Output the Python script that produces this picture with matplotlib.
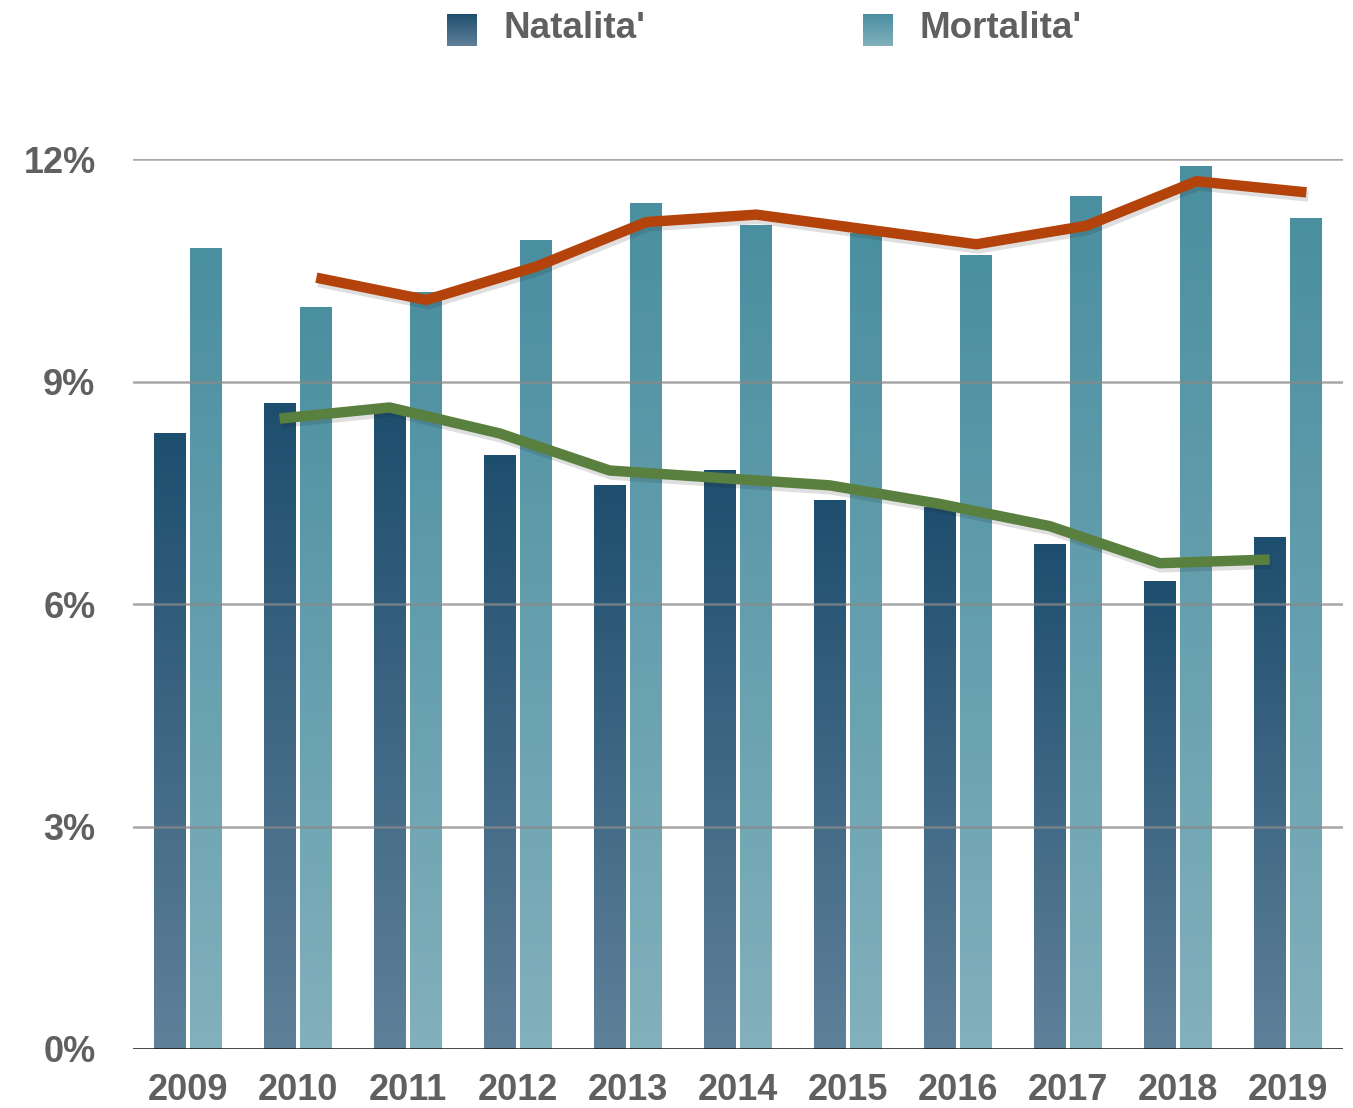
import numpy as np
import matplotlib
matplotlib.use("Agg")
import matplotlib.pyplot as plt
from matplotlib.colors import LinearSegmentedColormap
import matplotlib.patheffects as pe

plt.rcParams['font.family'] = ['Liberation Sans', 'DejaVu Sans']

years = ['2009', '2010', '2011', '2012', '2013', '2014', '2015', '2016', '2017', '2018', '2019']
natalita = [8.3, 8.7, 8.6, 8.0, 7.6, 7.8, 7.4, 7.3, 6.8, 6.3, 6.9]
mortalita = [10.8, 10.0, 10.2, 10.9, 11.4, 11.1, 11.0, 10.7, 11.5, 11.9, 11.2]
yticks = [0, 3, 6, 9, 12]
series_names = ["Natalita'", "Mortalita'"]

W, H = 1353, 1108
fig = plt.figure(figsize=(W / 100, H / 100), dpi=100)
ax = fig.add_axes([133 / W, 1 - 1049 / H, (1343 - 133) / W, (1049 - 159) / H])

dark_cmap = LinearSegmentedColormap.from_list('dark', ['#5f8099', '#1e4e6e'])
light_cmap = LinearSegmentedColormap.from_list('light', ['#82b0bc', '#4a8fa0'])
grad = np.linspace(0, 1, 256).reshape(-1, 1)

x = np.arange(len(years))
bw = 0.29
off = 0.167

def grad_bar(xc, h, cmap):
    x0, x1 = xc - bw / 2, xc + bw / 2
    ax.imshow(grad, extent=(x0, x1, 0, h), origin='lower', aspect='auto',
              cmap=cmap, zorder=2, interpolation='bilinear')

for i in range(len(years)):
    grad_bar(x[i] - off, natalita[i], dark_cmap)
    grad_bar(x[i] + off, mortalita[i], light_cmap)

# 2-period moving averages (trend lines)
nat = np.array(natalita)
mor = np.array(mortalita)
nat_ma = (nat[1:] + nat[:-1]) / 2
mor_ma = (mor[1:] + mor[:-1]) / 2

shadow = [pe.SimpleLineShadow(offset=(1.5, -3), alpha=0.14, shadow_color='#222222'), pe.Normal()]
ax.plot(x[1:] - off, nat_ma, color='#5a8040', lw=7.5, solid_joinstyle='round',
        solid_capstyle='butt', zorder=5, path_effects=shadow, clip_on=False)
ax.plot(x[1:] + off, mor_ma, color='#b3430b', lw=7.5, solid_joinstyle='round',
        solid_capstyle='butt', zorder=5, path_effects=shadow, clip_on=False)

# gridlines over bars
for yv in yticks[1:]:
    ax.axhline(yv, color='#8a8a8a', lw=1.8, alpha=0.75, zorder=3)
ax.axhline(0, color='#111111', lw=1.8, zorder=4)

ax.set_xlim(-0.5, len(years) - 0.5)
ax.set_ylim(0, 12)
for s in ax.spines.values():
    s.set_visible(False)
ax.set_xticks(x)
ax.set_xticklabels(years)
ax.set_yticks(yticks)
ax.set_yticklabels([f"{v}%" for v in yticks])
ax.tick_params(axis='both', length=0, labelsize=26, labelcolor='#606060')
ax.tick_params(axis='x', pad=17)
ax.tick_params(axis='y', pad=27)
for lab in ax.get_xticklabels() + ax.get_yticklabels():
    lab.set_fontweight('bold')

# legend
for (sx, tx, cmap, name) in [(447, 503, dark_cmap, series_names[0]),
                              (863, 919, light_cmap, series_names[1])]:
    la = fig.add_axes([sx / W, 1 - 46 / H, 30 / W, 32 / H])
    la.imshow(grad, origin='lower', aspect='auto', cmap=cmap, extent=(0, 1, 0, 1))
    la.axis('off')
    fig.text(tx / W, 1 - 28 / H, name, fontsize=26.5, fontweight='bold',
             color='#606060', ha='left', va='center')

fig.savefig('out.png', dpi=100)
